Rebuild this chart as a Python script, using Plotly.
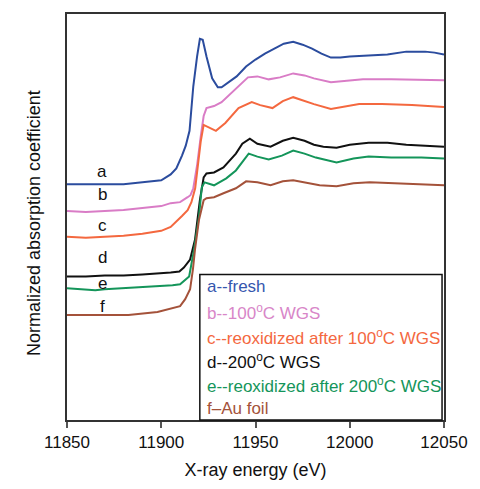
import plotly.graph_objects as go

# ---- data (energy in eV, normalized absorption, offset curves) ----
E_a = [11850, 11870, 11880, 11890, 11900, 11905, 11908, 11911, 11913, 11915, 11917, 11919, 11920.5, 11922,
       11924, 11927, 11930, 11932, 11935, 11940, 11945, 11950, 11955, 11960, 11965, 11970, 11975, 11980,
       11985, 11990, 11995, 12000, 12010, 12020, 12030, 12040, 12045, 12050]
Y_a = [2.38, 2.38, 2.38, 2.40, 2.42, 2.48, 2.54, 2.67, 2.77, 2.92, 3.37, 3.67, 3.85, 3.84,
       3.67, 3.45, 3.36, 3.36, 3.40, 3.47, 3.57, 3.64, 3.70, 3.75, 3.80, 3.82, 3.79, 3.75,
       3.70, 3.66, 3.66, 3.67, 3.68, 3.69, 3.72, 3.72, 3.71, 3.69]

E_b = [11850, 11860, 11870, 11880, 11890, 11900, 11905, 11910, 11914, 11915.5, 11917, 11919, 11921, 11922.5,
       11924, 11928, 11932, 11937, 11942, 11946, 11951, 11957, 11963, 11970, 11976, 11981, 11990, 11997,
       12007, 12022, 12038, 12050]
Y_b = [2.11, 2.10, 2.11, 2.12, 2.14, 2.16, 2.19, 2.20, 2.25, 2.27, 2.34, 2.57, 2.87, 3.07,
       3.15, 3.17, 3.21, 3.30, 3.38, 3.46, 3.47, 3.44, 3.46, 3.50, 3.48, 3.45, 3.41, 3.42,
       3.44, 3.44, 3.43, 3.43]

E_c = [11850, 11860, 11870, 11880, 11890, 11900, 11905, 11908, 11911, 11914, 11916, 11918, 11919.5, 11921,
       11922.5, 11925, 11929, 11934, 11941, 11948, 11952.5, 11959, 11964.5, 11970, 11976, 11981, 11990,
       11997, 12005, 12017, 12033, 12050]
Y_c = [1.85, 1.84, 1.85, 1.86, 1.88, 1.91, 1.95, 2.00, 2.06, 2.12, 2.20, 2.34, 2.57, 2.82,
       2.98, 2.96, 2.92, 3.00, 3.15, 3.21, 3.18, 3.15, 3.22, 3.26, 3.22, 3.19, 3.14,
       3.16, 3.19, 3.19, 3.18, 3.16]

E_d = [11850, 11860, 11870, 11880, 11890, 11900, 11905, 11909.6, 11912, 11915.3, 11917.9, 11920.5, 11922.5,
       11924, 11928, 11933, 11939.6, 11943, 11947, 11951, 11958, 11964.5, 11970, 11976, 11981, 11986,
       11993, 12000, 12010, 12020, 12030, 12040, 12050]
Y_d = [1.45, 1.45, 1.46, 1.46, 1.47, 1.48, 1.49, 1.50, 1.54, 1.62, 1.82, 2.22, 2.45,
       2.49, 2.50, 2.55, 2.69, 2.79, 2.84, 2.79, 2.76, 2.82, 2.85, 2.82, 2.78, 2.76,
       2.75, 2.78, 2.80, 2.80, 2.78, 2.77, 2.76]

E_e = [11850, 11860, 11865, 11870, 11880, 11890, 11900, 11906, 11910, 11914.8, 11917.4, 11920, 11921.5,
       11923, 11928, 11934.5, 11939.6, 11946.4, 11951, 11957, 11964, 11970, 11976, 11982, 11993, 12002,
       12010, 12022, 12038, 12050]
Y_e = [1.33, 1.32, 1.31, 1.32, 1.33, 1.34, 1.35, 1.36, 1.37, 1.45, 1.72, 2.05, 2.35,
       2.40, 2.37, 2.44, 2.52, 2.69, 2.66, 2.63, 2.67, 2.72, 2.69, 2.65, 2.60, 2.64,
       2.66, 2.65, 2.65, 2.64]

E_f = [11850, 11870, 11882.6, 11898, 11906, 11910, 11912.7, 11915.3, 11916.8, 11917.9, 11920, 11922.5,
       11924, 11928, 11933, 11939.6, 11945, 11951, 11958, 11964.5, 11970, 11976, 11984, 11993, 12002,
       12010.6, 12022.5, 12038, 12050]
Y_f = [1.06, 1.06, 1.06, 1.09, 1.13, 1.15, 1.22, 1.32, 1.52, 1.72, 2.02, 2.22,
       2.24, 2.25, 2.29, 2.34, 2.41, 2.40, 2.37, 2.41, 2.42, 2.40, 2.37, 2.36, 2.39,
       2.40, 2.39, 2.38, 2.37]

series_letters = ["a", "b", "c", "d", "e", "f"]
legend_labels = ["a--fresh", "b--100<sup>o</sup>C WGS", "c--reoxidized after 100<sup>o</sup>C WGS",
                 "d--200<sup>o</sup>C WGS", "e--reoxidized after 200<sup>o</sup>C WGS", "f\u2013Au foil"]
letter_y = [2.51, 2.28, 1.96, 1.64, 1.38, 1.15]
letter_x = 11868.7
x_ticks = [11850, 11900, 11950, 12000, 12050]

colors = ["#2B4C9E", "#D97CC6", "#F4683F", "#111111", "#14955A", "#A4523A"]
text_colors = ["#3556AE", "#D886C8", "#F4683F", "#111111", "#14955A", "#A4523A"]

xs = [E_a, E_b, E_c, E_d, E_e, E_f]
ys = [Y_a, Y_b, Y_c, Y_d, Y_e, Y_f]

FONT = "Arial, Liberation Sans, Helvetica, sans-serif"

fig = go.Figure()
for x, y, c, n in zip(xs, ys, colors, series_letters):
    fig.add_trace(go.Scatter(x=x, y=y, mode="lines", name=n,
                             line=dict(color=c, width=2), showlegend=False))

# curve letters
for letter, ly in zip(series_letters, letter_y):
    fig.add_annotation(x=letter_x, y=ly, xref="x", yref="y", text=letter, showarrow=False,
                       font=dict(family=FONT, size=17, color="#111111"))

# legend box
L, R, T, B = 67, 453, 12, 422
pw, ph = R - L, B - T
bx0, bx1, by1 = 203, 451, 275
fig.add_shape(type="rect", xref="paper", yref="paper",
              x0=(bx0 - L) / pw, x1=(bx1 - L) / pw, y0=0, y1=(B - by1) / ph,
              line=dict(color="#111111", width=1.5), fillcolor="white", layer="above")
legend_py = [287, 313, 338, 362, 387, 410]
for lab, tc, py in zip(legend_labels, text_colors, legend_py):
    fig.add_annotation(x=(208 - L) / pw, y=(B - py) / ph, xref="paper", yref="paper",
                       xanchor="left", yanchor="middle", text=lab, showarrow=False,
                       font=dict(family=FONT, size=17, color=tc))

# y axis title
fig.add_annotation(x=(21 - L) / pw, y=(B - 223) / ph, xref="paper", yref="paper",
                   text="Normalized absorption coefficient", textangle=-90, showarrow=False,
                   font=dict(family=FONT, size=18, color="#111111"))

fig.update_layout(
    width=480, height=489,
    margin=dict(l=L, r=480 - R, t=T, b=489 - B),
    plot_bgcolor="white", paper_bgcolor="white",
    font=dict(family=FONT, color="#111111"),
)
fig.update_xaxes(range=[11850, 12050], tickvals=x_ticks, ticktext=[str(v) for v in x_ticks],
                 ticks="outside", ticklen=6, tickcolor="#555555", tickwidth=1.5,
                 showline=True, linecolor="#333333", linewidth=1.5, mirror=True,
                 showgrid=False, zeroline=False,
                 tickfont=dict(family=FONT, size=17, color="#111111"),
                 title=dict(text="X-ray energy (eV)", font=dict(family=FONT, size=18, color="#111111"),
                            standoff=12))
fig.update_yaxes(range=[0, 4.10], showticklabels=False, ticks="",
                 showline=True, linecolor="#333333", linewidth=1.5, mirror=True,
                 showgrid=False, zeroline=False)

fig.write_html("out.html")
